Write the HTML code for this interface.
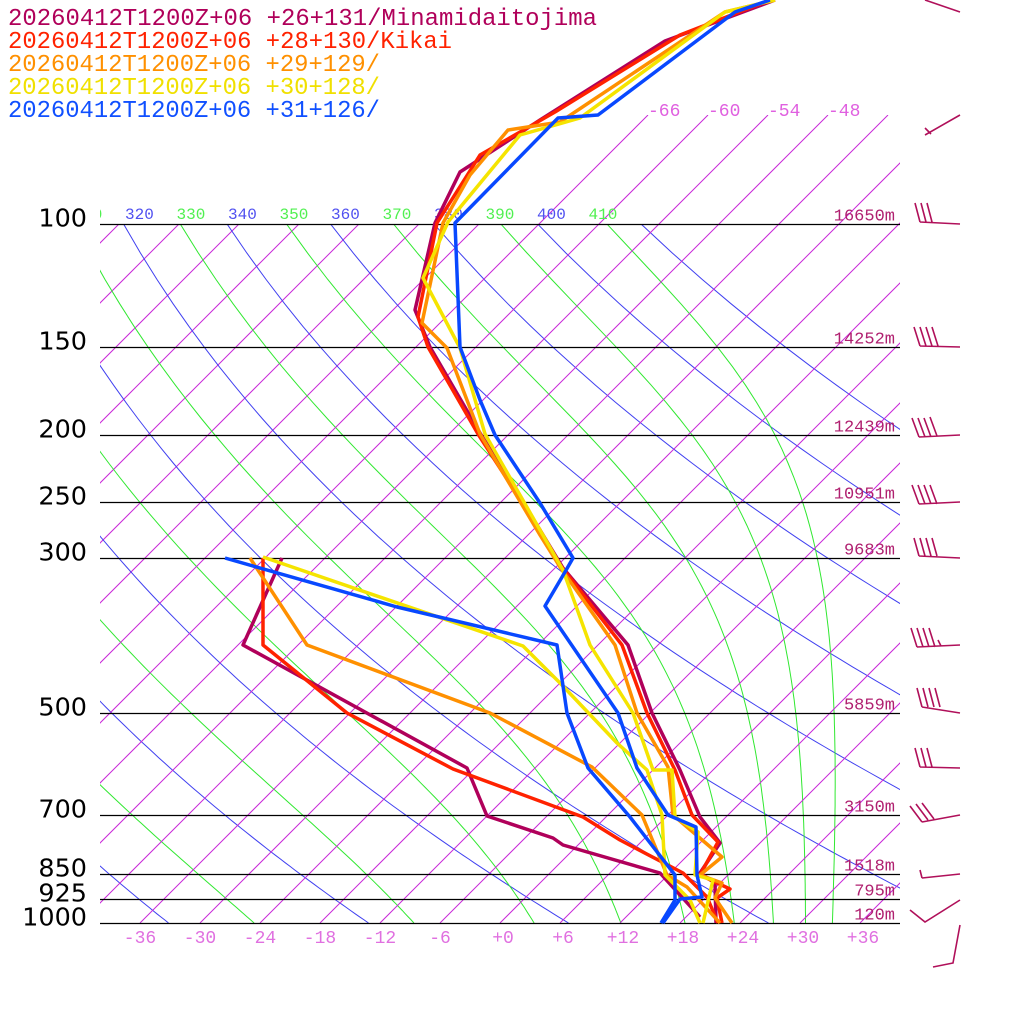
<!DOCTYPE html>
<html><head><meta charset="utf-8"><style>
html,body{margin:0;padding:0;background:#fff;}
svg{display:block;}
.mono{font-family:"Liberation Mono","DejaVu Sans Mono",monospace;}
</style></head><body>
<svg id="s" width="1024" height="1024" viewBox="0 0 1024 1024" xmlns="http://www.w3.org/2000/svg">
<defs>
<clipPath id="cA"><rect x="100" y="224" width="800" height="699"/></clipPath>
<clipPath id="cB"><rect x="100" y="115" width="800" height="808"/></clipPath>
<clipPath id="cT"><rect x="100" y="190" width="800" height="40"/></clipPath>
</defs>
<rect width="1024" height="1024" fill="#fff"/>
<g id="grid"></g>
<g id="plines" stroke="#000" stroke-width="1.3"></g>
<g id="labels"></g>
<g fill="none" stroke-width="3.5" stroke-linejoin="round">
<polyline stroke="#b0005a" points="775,0 665,41 540,120 460,172 435,223 415,310 430,347 480,433 540,530 563,568 628,645 652,713 680,770 700,817 720,843 700,873 715,883 716,923"/>
<polyline stroke="#b0005a" points="282,558 243,645 467,768 487,816 553,838 563,845 660,873 700,917"/>
<polyline stroke="#ff2200" points="770,0 680,35 555,112 480,155 437,223 418,317 428,347 478,434 540,530 560,565 622,645 647,713 675,770 692,815 718,842 700,875 730,889 717,898 722,923"/>
<polyline stroke="#ff2200" points="263,558 263,645 347,713 453,769 583,817 620,840 683,873 707,897 718,923"/>
<polyline stroke="#ff9000" points="775,0 725,12 560,122 508,130 470,175 443,223 422,323 447,348 480,434 540,535 560,567 615,645 637,713 668,767 673,815 722,857 700,875 722,883 715,898 732,923"/>
<polyline stroke="#ff9000" points="250,558 307,645 490,713 592,767 642,815 667,875 687,887 720,923"/>
<polyline stroke="#f5e400" points="775,0 725,12 580,118 520,135 448,222 423,278 460,348 485,434 540,530 563,570 590,645 633,713 653,770 672,770 675,817 698,832 695,875 713,880 703,923"/>
<polyline stroke="#f5e400" points="263,557 523,646 560,683 617,743 647,770 662,815 665,875 690,900 700,923"/>
<polyline stroke="#0848ff" points="770,0 735,12 598,115 558,118 455,223 460,347 480,400 495,435 540,503 573,558 565,572 545,606 618,713 637,768 668,815 696,827 697,875 702,897 680,899 663,923"/>
<polyline stroke="#0848ff" points="225,558 397,607 557,645 567,713 588,768 630,817 675,875 675,900 661,923"/>
</g>
<g fill="none" stroke="#b0105a" stroke-width="1.6">
<path d="M925,0 L960,12"/>
<path d="M925,135 L960,115 M925,128 L931,134"/>
<path d="M920,222 L960,224 M920,222 L915,203 M926,222 L921,203 M932,222 L927,203"/>
<path d="M920,346 L960,347 M920,346 L914,327 M926,346 L920,327 M932,346 L926,327 M938,346 L932,327"/>
<path d="M919,437 L960,435 M919,437 L912,418 M925,437 L918,418 M931,437 L924,418 M937,436 L930,417"/>
<path d="M919,504 L960,502 M919,504 L912,485 M925,504 L918,485 M931,504 L924,485 M937,504 L930,485"/>
<path d="M919,556 L960,558 M919,556 L914,538 M925,556 L920,538 M931,556 L926,538 M937,556 L932,538"/>
<path d="M917,647 L960,645 M917,647 L911,628 M923,647 L917,628 M929,647 L923,628 M935,647 L929,628 M941,646 L938,640"/>
<path d="M922,707 L960,713 M922,707 L917,688 M928,707 L923,688 M934,707 L929,688 M940,707 L935,688"/>
<path d="M920,767 L960,768 M920,767 L915,748 M926,767 L921,748 M932,767 L927,748"/>
<path d="M922,822 L960,815 M922,822 L910,806 M928,820 L916,804 M934,819 L922,803"/>
<path d="M922,878 L960,874 M922,878 L920,870"/>
<path d="M910,910 L925,922 L960,900"/>
<path d="M960,925 L953,963 L933,967"/>
</g>
</svg>
<script>
(function(){
var NS="http://www.w3.org/2000/svg";
function el(tag,attrs,parent,txt){var e=document.createElementNS(NS,tag);for(var k in attrs)e.setAttribute(k,attrs[k]);if(txt!==undefined)e.textContent=txt;parent.appendChild(e);return e;}
var grid=document.getElementById('grid');
var Y=function(p){return 923-303.5*Math.log(1000/p);};
var X=function(T,p){return 500+10*T+303.5*Math.log(1000/p);};
var gA=el('g',{'clip-path':'url(#cA)'},grid), gB=el('g',{'clip-path':'url(#cB)'},grid);
for(var T=-114;T<=36;T+=6){
  var top=(T>=-66)?115:224, g=(T>=-66)?gB:gA;
  var x1=500+10*T, x2=500+10*T+(923-top);
  el('line',{x1:x1,y1:923,x2:x2,y2:top,stroke:'#c828d8','stroke-width':1},g);
}
for(var th=200;th<=420;th+=20){
  var pts=[];for(var p=1000;p>=100;p-=10){var t=th*Math.pow(p/1000,0.286)-273.15;pts.push(X(t,p).toFixed(1)+','+Y(p).toFixed(1));}
  el('polyline',{points:pts.join(' '),fill:'none',stroke:'#4040f0','stroke-width':1},gA);
}
function es(Tc){return 6.112*Math.exp(17.67*Tc/(Tc+243.5));}
function rs(Tc,p){var e=es(Tc);return 0.622*e/(p-e);}
function thE(Tc,p){var Tk=Tc+273.15,r=rs(Tc,p);return Tk*Math.pow(1000/p,0.2854)*Math.exp((3376/Tk-2.54)*r*(1+0.81*r));}
for(var te=210;te<=410;te+=20){
  var lo=-80,hi=50;for(var i=0;i<60;i++){var m=(lo+hi)/2;if(thE(m,1000)>te)hi=m;else lo=m;}
  var Tc=(lo+hi)/2,pts=[],p=1000;
  pts.push(X(Tc,p).toFixed(1)+','+Y(p).toFixed(1));
  while(p>100){var dp=-2,Tk=Tc+273.15,r=rs(Tc,p);
    var d=(287*Tk+2.5e6*r)/(p*(1005+2.5e6*2.5e6*r*0.622/(287*Tk*Tk)));
    Tc+=d*dp;p+=dp;if(Math.round(p)%10==0)pts.push(X(Tc,p).toFixed(1)+','+Y(p).toFixed(1));}
  el('polyline',{points:pts.join(' '),fill:'none',stroke:'#30e830','stroke-width':1},gA);
}
var pl=document.getElementById('plines'), lab=document.getElementById('labels');
var lev=[[100,'16650m'],[150,'14252m'],[200,'12439m'],[250,'10951m'],[300,'9683m'],[500,'5859m'],[700,'3150m'],[850,'1518m'],[925,'795m'],[1000,'120m']];
lev.forEach(function(l){var y=Math.round(Y(l[0]))+0.5;
  el('line',{x1:100,y1:y,x2:900,y2:y},pl);
  var s=String(l[0]);
  el('text',{x:87,y:y+2,'text-anchor':'end','font-family':'"DejaVu Sans","Liberation Sans",sans-serif','font-size':25,fill:'#000',textLength:(s.length*16.2),lengthAdjust:'spacingAndGlyphs'},lab,s);
  el('text',{x:895,y:y-4,'text-anchor':'end','class':'mono','font-size':17,fill:'#b02070'},lab,l[1]);
});
var gT=el('g',{'clip-path':'url(#cT)'},lab);
for(var i=0;i<11;i++){var v=310+10*i;
  el('text',{x:73.5+51.5*i,y:219,'class':'mono','font-size':16,fill:(i%2==0)?'#50f050':'#5050f0'},gT,String(v));}
[-66,-60,-54,-48].forEach(function(t,i){el('text',{x:648+60*i,y:116,'class':'mono','font-size':18,fill:'#e060e0'},lab,String(t));});
for(var t=-36;t<=36;t+=6){var s=(t>=0?'+':'')+t;
  el('text',{x:500+10*t+(t>=0?3:0),y:943,'text-anchor':'middle','class':'mono','font-size':18,fill:'#e070e0'},lab,s);}
var leg=[['20260412T1200Z+06 +26+131/Minamidaitojima','#b0005a',589],['20260412T1200Z+06 +28+130/Kikai','#ff2200',444],['20260412T1200Z+06 +29+129/','#ff9000',372],['20260412T1200Z+06 +30+128/','#f0e000',372],['20260412T1200Z+06 +31+126/','#1050ff',372]];
leg.forEach(function(l,i){el('text',{x:8,y:25+23*i,'class':'mono','font-size':24,fill:l[1],textLength:l[2],lengthAdjust:'spacingAndGlyphs'},lab,l[0]);});
})();
</script>
</body></html>
